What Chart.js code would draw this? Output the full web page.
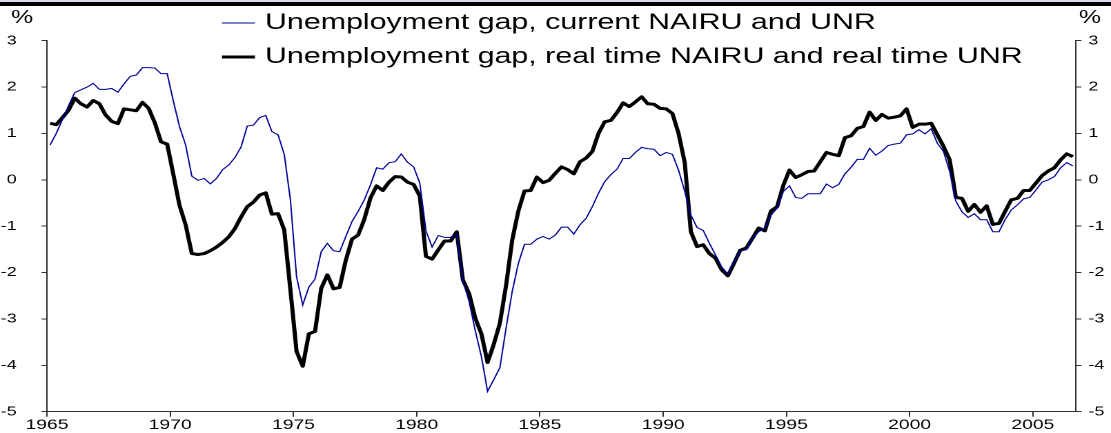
<!DOCTYPE html>
<html>
<head>
<meta charset="utf-8">
<script src="https://cdn.jsdelivr.net/npm/chart.js@4.4.1/dist/chart.umd.min.js"></script>
<style>
html,body{margin:0;padding:0;background:#fff;width:1111px;height:433px;overflow:hidden}
#wrap{position:absolute;left:0;top:0;width:805px;height:433px;transform:scaleX(1.3801);transform-origin:0 0}
#topbar{position:absolute;left:0;top:0;width:1111px;height:6px;background:#000;border-top:2px solid #dcdcec;box-sizing:border-box}
canvas{display:block}
</style>
</head>
<body>
<div id="wrap"><canvas id="c" width="805" height="433"></canvas></div>
<div id="topbar"></div>
<script>
// ---- data ----
const firstYear = 1965;
const quarterCount = 167; // 1965Q1 .. 2006Q3
const yearTicks = ['1965','1970','1975','1980','1985','1990','1995','2000','2005'];
const unitLabel = '%';
const seriesNames = [
  'Unemployment gap, current NAIRU and UNR',
  'Unemployment gap, real time NAIRU and real time UNR'
];
const currentGap = [
  0.75,1.00,1.30,1.60,1.88,1.94,2.00,2.08,1.95,1.95,
  1.97,1.89,2.07,2.23,2.26,2.42,2.42,2.41,2.29,2.29,
  1.70,1.15,0.75,0.08,-0.01,0.03,-0.09,0.03,0.22,0.32,
  0.48,0.71,1.16,1.18,1.34,1.39,1.04,0.97,0.55,-0.43,
  -2.09,-2.70,-2.31,-2.14,-1.55,-1.37,-1.53,-1.55,-1.22,-0.90,
  -0.68,-0.43,-0.11,0.26,0.23,0.37,0.39,0.56,0.38,0.28,
  -0.07,-1.10,-1.45,-1.20,-1.24,-1.24,-1.17,-2.18,-2.62,-3.25,
  -3.81,-4.56,-4.31,-4.05,-3.20,-2.41,-1.80,-1.39,-1.39,-1.28,
  -1.22,-1.28,-1.19,-1.02,-1.02,-1.17,-0.97,-0.83,-0.58,-0.29,
  -0.04,0.11,0.23,0.46,0.46,0.59,0.70,0.67,0.66,0.52,
  0.59,0.55,0.21,-0.25,-0.76,-1.03,-1.09,-1.37,-1.62,-1.88,
  -2.03,-1.77,-1.53,-1.51,-1.26,-1.12,-1.04,-0.76,-0.61,-0.25,
  -0.13,-0.38,-0.40,-0.30,-0.30,-0.30,-0.09,-0.17,-0.10,0.13,
  0.27,0.44,0.44,0.68,0.53,0.62,0.74,0.77,0.79,0.97,
  0.99,1.08,0.99,1.10,0.79,0.61,0.18,-0.46,-0.69,-0.81,
  -0.73,-0.86,-0.86,-1.12,-1.12,-0.86,-0.65,-0.54,-0.41,-0.38,
  -0.22,-0.05,0.00,0.07,0.26,0.37,0.30
];
const realTimeGap = [
  1.22,1.19,1.34,1.50,1.76,1.64,1.57,1.71,1.64,1.40,
  1.26,1.21,1.53,1.51,1.49,1.67,1.54,1.23,0.82,0.77,
  0.12,-0.55,-0.97,-1.59,-1.61,-1.59,-1.53,-1.45,-1.35,-1.23,
  -1.05,-0.80,-0.58,-0.48,-0.33,-0.28,-0.74,-0.73,-1.08,-2.37,
  -3.70,-4.02,-3.32,-3.27,-2.34,-2.05,-2.35,-2.32,-1.73,-1.28,
  -1.19,-0.85,-0.39,-0.13,-0.23,-0.05,0.07,0.06,-0.05,-0.10,
  -0.35,-1.65,-1.71,-1.51,-1.32,-1.32,-1.12,-2.16,-2.45,-2.98,
  -3.32,-3.94,-3.55,-3.09,-2.28,-1.30,-0.67,-0.24,-0.23,0.06,
  -0.06,-0.01,0.14,0.28,0.22,0.13,0.39,0.47,0.61,1.00,
  1.25,1.28,1.45,1.66,1.58,1.68,1.79,1.64,1.63,1.54,
  1.53,1.43,1.00,0.37,-1.12,-1.44,-1.40,-1.59,-1.69,-1.94,
  -2.07,-1.80,-1.52,-1.47,-1.26,-1.04,-1.10,-0.67,-0.58,-0.12,
  0.21,0.05,0.11,0.18,0.19,0.39,0.59,0.55,0.52,0.91,
  0.95,1.11,1.15,1.46,1.28,1.41,1.33,1.35,1.38,1.53,
  1.13,1.20,1.20,1.22,0.97,0.72,0.43,-0.38,-0.40,-0.68,
  -0.53,-0.70,-0.56,-0.96,-0.94,-0.68,-0.43,-0.40,-0.23,-0.23,
  -0.07,0.09,0.19,0.26,0.43,0.56,0.50
];
const quarterLabels = [];
for (let k = 0; k < quarterCount; k++) {
  quarterLabels.push((firstYear + Math.floor(k / 4)) + 'Q' + (k % 4 + 1));
}

// ---- style ----
const S = 1.3801; // horizontal stretch of the whole picture
const FONT = '"Liberation Sans", Arial, Helvetica, sans-serif';
const AXIS = '#333';

const overlay = {
  id: 'overlay',
  afterDraw(chart) {
    const ctx = chart.ctx;
    ctx.save();
    ctx.fillStyle = '#000';
    ctx.textBaseline = 'middle';
    ctx.textAlign = 'center';
    ctx.font = '18px ' + FONT;
    ctx.fillText(unitLabel, 22 / S, 18);
    ctx.fillText(unitLabel, 1090 / S, 18);
    // legend
    const rows = [23, 57];
    ctx.textAlign = 'left';
    ctx.font = '22px ' + FONT;
    chart.data.datasets.forEach((ds, k) => {
      const y = rows[k];
      ctx.strokeStyle = ds.borderColor;
      ctx.lineWidth = ds.borderWidth;
      ctx.beginPath();
      ctx.moveTo(222 / S, y);
      ctx.lineTo(255 / S, y);
      ctx.stroke();
      ctx.fillText(ds.label, 265 / S, y);
    });
    ctx.restore();
  }
};

const yTicks = (side) => ({
  min: -5, max: 3,
  position: side,
  border: { display: true, color: AXIS, width: 1 },
  grid: { drawOnChartArea: false, drawTicks: true, tickLength: 4, color: AXIS },
  ticks: {
    stepSize: 1,
    color: '#000',
    font: { size: 13, family: FONT },
    padding: side === 'left' ? 18 : 5
  },
  afterFit: (s) => {
    s.width = side === 'left' ? 47 / S : (1111 - 1076) / S;
    s.paddingTop = 0; s.paddingBottom = 0;
  }
});

new Chart(document.getElementById('c'), {
  type: 'line',
  data: {
    labels: quarterLabels,
    datasets: [
      { label: seriesNames[0], data: currentGap, borderColor: '#000099', borderWidth: 1,
        pointRadius: 0, tension: 0, fill: false, yAxisID: 'y' },
      { label: seriesNames[1], data: realTimeGap, borderColor: '#000000', borderWidth: 3,
        pointRadius: 0, tension: 0, fill: false, yAxisID: 'y', borderJoinStyle: 'round' }
    ]
  },
  options: {
    responsive: false,
    animation: false,
    devicePixelRatio: 2,
    layout: { autoPadding: false, padding: { top: 40.7, left: 0, right: 0, bottom: 0 } },
    plugins: { legend: { display: false }, tooltip: { enabled: false } },
    scales: {
      x: {
        type: 'category',
        offset: true,
        border: { display: true, color: AXIS, width: 1 },
        grid: {
          offset: true, drawOnChartArea: false, drawTicks: true, tickLength: 5,
          color: (c) => (c.index % 20 === 0 && c.index < quarterCount) ? AXIS : 'rgba(0,0,0,0)'
        },
        ticks: {
          autoSkip: false, maxRotation: 0, minRotation: 0, padding: 0,
          labelOffset: -745.6 / quarterCount / 2,
          color: '#000', font: { size: 14, family: FONT },
          callback: (v, i) => (i % 20 === 0 ? yearTicks[i / 20] : '')
        },
        afterFit: (s) => { s.height = 433 - 411.7; s.paddingLeft = 0; s.paddingRight = 0; }
      },
      y: yTicks('left'),
      y2: yTicks('right')
    }
  },
  plugins: [overlay]
});
</script>
</body>
</html>
